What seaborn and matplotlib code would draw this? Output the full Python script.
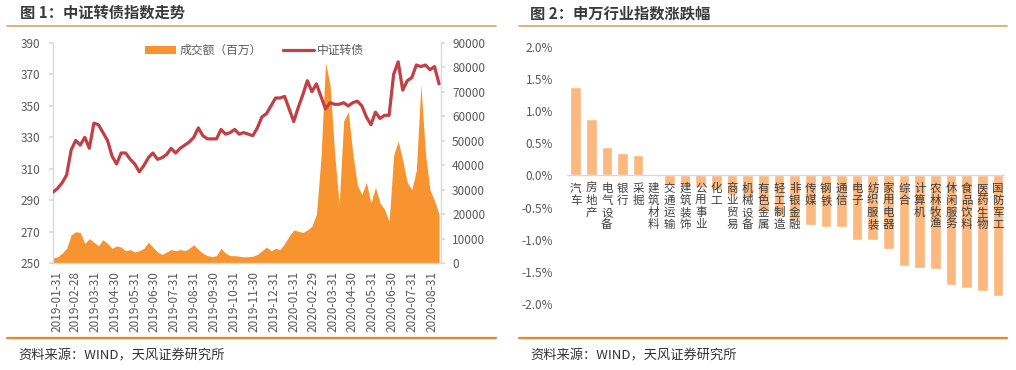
import pandas as pd
import matplotlib
matplotlib.use("Agg")
import matplotlib.pyplot as plt
from matplotlib.patches import Patch
from matplotlib.lines import Line2D
import seaborn as sns

# --- 图1: 中证转债指数 & 成交额, weekly points ---
first_week = '2019-01-25'
cb_index = [295, 297.5, 301, 306, 322, 328, 325, 330, 323, 339,
            338, 333, 328, 318, 313, 320, 320, 316, 313, 308,
            312, 317, 320, 316, 317, 319, 323, 320, 323, 325,
            327, 330, 336, 331, 329, 329, 329, 335, 332, 333,
            335, 332, 333, 332, 331, 336, 343, 345, 350, 355,
            355, 356, 348, 340, 349, 357, 366, 359, 364, 356,
            348, 352, 351, 351, 352, 350, 352, 353, 350, 343,
            338, 346, 342, 344, 344, 370, 378, 360, 366, 368,
            376, 375, 376, 373, 375, 364]
turnover = [2000, 2500, 4000, 6000, 11500, 12800, 12500, 8000, 10000, 8500,
            7000, 9500, 8000, 6000, 7000, 6500, 5000, 5500, 4500, 5000,
            6000, 8500, 6500, 4500, 3500, 4500, 5500, 5000, 5500, 5000,
            6000, 7500, 5500, 4000, 3000, 2600, 3000, 6000, 4000, 3000,
            3000, 2800, 2500, 2600, 2800, 3500, 5000, 6500, 5000, 6000,
            5500, 8000, 11000, 13500, 13000, 12500, 13500, 15000, 20000, 43000,
            82000, 73000, 45000, 24000, 58000, 62000, 45000, 32000, 28000, 33000,
            24500, 31000, 24500, 22000, 17000, 44000, 50000, 42000, 33000, 30000,
            38000, 73000, 45000, 30000, 25500, 20000]
date_ticks = ['2019-01-31', '2019-02-28', '2019-03-31', '2019-04-30', '2019-05-31',
              '2019-06-30', '2019-07-31', '2019-08-31', '2019-09-30', '2019-10-31',
              '2019-11-30', '2019-12-31', '2020-01-31', '2020-02-29', '2020-03-31',
              '2020-04-30', '2020-05-31', '2020-06-30', '2020-07-31', '2020-08-31']

# --- 图2: 申万行业指数涨跌幅 (%) ---
industries = ['汽车', '房地产', '电气设备', '银行', '采掘', '建筑材料', '交通运输',
              '建筑装饰', '公用事业', '化工', '商业贸易', '机械设备', '有色金属',
              '轻工制造', '非银金融', '传媒', '钢铁', '通信', '电子', '纺织服装',
              '家用电器', '综合', '计算机', '农林牧渔', '休闲服务', '食品饮料',
              '医药生物', '国防军工']
pct_change = [1.37, 0.88, 0.44, 0.35, 0.32, 0.0, -0.15,
              -0.17, -0.18, -0.22, -0.30, -0.35, -0.55,
              -0.63, -0.70, -0.77, -0.80, -0.81, -1.01, -1.01,
              -1.15, -1.41, -1.44, -1.46, -1.70, -1.75,
              -1.80, -1.87]

ORANGE = '#F7942F'
RED = '#C23F45'
PEACH = '#FBB87F'
GRID = '#D9D9D9'
TICK = '#595959'

sns.set_theme(style='white')
plt.rcParams['font.family'] = ['Noto Sans CJK SC', 'DejaVu Sans']
plt.rcParams['axes.unicode_minus'] = False

W, H = 1016, 370
fig = plt.figure(figsize=(W / 100, H / 100), dpi=100)


def px_box(x0, y0, x1, y1):
    # pixel box (top-left origin) -> figure fraction rect
    return [x0 / W, 1 - y1 / H, (x1 - x0) / W, (y1 - y0) / H]


# ---------------- left panel ----------------
df1 = pd.DataFrame({
    'date': pd.date_range(first_week, periods=len(cb_index), freq='7D'),
    'index': cb_index,
    'turnover': turnover,
})

ax_v = fig.add_axes(px_box(53, 43, 441, 263))
ax_v.fill_between(df1['date'], df1['turnover'], color=ORANGE, lw=0)
ax_v.set_ylim(0, 90000)
ax_v.set_yticks(range(0, 90001, 10000))
ax_v.set_xlim(pd.Timestamp('2019-01-25'), pd.Timestamp('2020-09-14'))

ax_i = ax_v.twinx()
ax_v.yaxis.tick_right()
ax_i.yaxis.tick_left()
sns.lineplot(data=df1, x='date', y='index', ax=ax_i, color=RED, lw=2.3)
ax_i.set_ylim(250, 390)
ax_i.set_yticks(range(250, 391, 20))
ax_i.set_xlabel('')
ax_i.set_ylabel('')

tick_dates = pd.to_datetime(date_ticks)
ax_v.set_xticks(tick_dates)
ax_v.set_xticklabels(date_ticks, rotation=90)
ax_v.set_xlabel('')

ax_v.spines['top'].set_visible(False)
for side in ['left', 'right', 'bottom']:
    ax_v.spines[side].set_color(GRID)
    ax_v.spines[side].set_linewidth(1)
for sp in ax_i.spines.values():
    sp.set_visible(False)

ax_v.tick_params(axis='y', right=True, left=False, labelright=True, labelleft=False,
                 length=3, color=GRID, labelsize=8.5, labelcolor=TICK, pad=5)
ax_i.tick_params(axis='y', left=True, right=False, labelleft=True, labelright=False,
                 length=3, color=GRID, labelsize=8.5, labelcolor=TICK, pad=6)
ax_v.tick_params(axis='x', bottom=False, length=0, labelsize=8.5, labelcolor=TICK, pad=6)

handles = [Patch(facecolor=ORANGE, edgecolor='none'),
           Line2D([], [], color=RED, lw=2.3)]
leg = ax_i.legend(handles, ['成交额（百万）', '中证转债'], loc='center',
                  bbox_to_anchor=(0.52, 0.965), ncol=2, frameon=False,
                  fontsize=8.5, handlelength=2.6, handleheight=0.6,
                  columnspacing=1.8, handletextpad=0.3)
for t in leg.get_texts():
    t.set_color(TICK)

# ---------------- right panel ----------------
ax_b = fig.add_axes(px_box(567, 46.7, 1005, 304))
sns.barplot(x=industries, y=pct_change, ax=ax_b, color=PEACH, saturation=1,
            width=0.68)
ax_b.set_ylim(-2.0, 2.0)
ax_b.set_xlim(-0.55, 27.45)
yt = [-2.0, -1.5, -1.0, -0.5, 0.0, 0.5, 1.0, 1.5, 2.0]
ax_b.set_yticks(yt)
ax_b.set_yticklabels([f'{v:.1f}%' for v in yt])
ax_b.set_xticks([])
ax_b.axhline(0, color=GRID, lw=1)
for sp in ax_b.spines.values():
    sp.set_visible(False)
ax_b.tick_params(axis='y', left=False, length=0, labelsize=8.5, labelcolor=TICK, pad=10)
for i, name in enumerate(industries):
    ax_b.text(i, -0.1, '\n'.join(name), ha='center', va='top', fontsize=8.3,
              color='#404040', linespacing=0.9)

# ---------------- titles, rules, sources ----------------
fig.text(20 / W, 1 - 13 / H, '图 1：中证转债指数走势', fontsize=11, fontweight='bold',
         color='#3A3A3A', va='center')
fig.text(530 / W, 1 - 13 / H, '图 2：申万行业指数涨跌幅', fontsize=11, fontweight='bold',
         color='#3A3A3A', va='center')
for x0, x1 in [(7, 496), (519, 1007)]:
    fig.add_artist(Line2D([x0 / W, x1 / W], [1 - 26 / H] * 2, color='#D9A26B', lw=1.2))
    fig.add_artist(Line2D([x0 / W, x1 / W], [1 - 338 / H] * 2, color='#E8862A', lw=1.6))
fig.text(18 / W, 1 - 356 / H, '资料来源：WIND，天风证券研究所', fontsize=9.5,
         color='#333333', va='center')
fig.text(530 / W, 1 - 356 / H, '资料来源：WIND，天风证券研究所', fontsize=9.5,
         color='#333333', va='center')

fig.savefig('out.png', dpi=100)
